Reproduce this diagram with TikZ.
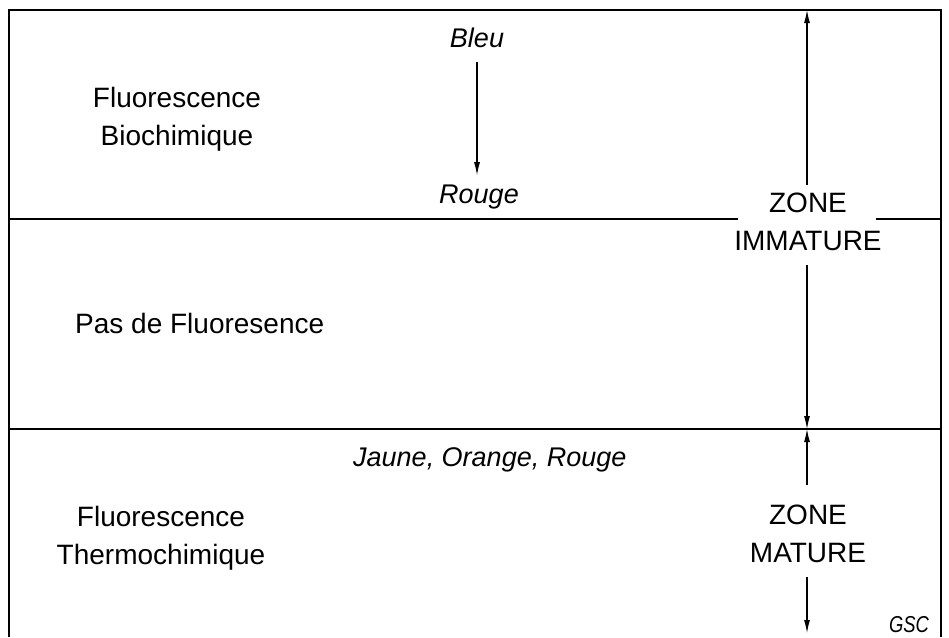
\documentclass[tikz,border=0pt]{standalone}
\usepackage{fontspec}
\setmainfont{Liberation Sans}
\usetikzlibrary{arrows.meta,calc}
\begin{document}
\begin{tikzpicture}[x=1pt,y=-1pt,
  frame/.style={line width=1.6pt},
  arr/.style={line width=1.1pt,-{Latex[length=13pt,width=6pt]}},
  lbl/.style={font=\fontsize{28}{38}\selectfont,align=center,inner sep=0pt,anchor=base},
  ilbl/.style={font=\fontsize{27}{38}\selectfont\itshape,inner sep=0pt,anchor=base},
  zone/.style={lbl}]
\useasboundingbox (0,0) rectangle (949,637);
% frame
\coordinate (TL) at (9,10);
\coordinate (TR) at (941,10);
\coordinate (BL) at (9,637);
\coordinate (BR) at (941,637);
\coordinate (L1) at (9,219);
\coordinate (R1) at (941,219);
\coordinate (L2) at (9,429);
\coordinate (R2) at (941,429);
\draw[frame] (BL) -- (TL) -- (TR) -- (BR);
% texts (two-line nodes: base = baseline of last line)
\node[lbl] (fb) at (177,145) {Fluorescence\\Biochimique};
\node[ilbl] (bleu) at (477,47) {Bleu};
\node[ilbl] (rouge) at (479,203) {Rouge};
\node[zone] (zi) at (808,250) {ZONE\\IMMATURE};
\node[lbl,anchor=base west] (pas) at (75,333) {Pas de Fluoresence};
\node[ilbl,anchor=base west] (jaune) at (353,466) {Jaune, Orange, Rouge};
\node[zone] (zm) at (808,562) {ZONE\\MATURE};
\node[lbl] (ft) at (161,564) {Fluorescence\\Thermochimique};
\node[ilbl,font=\fontsize{23}{26}\selectfont\itshape] (gsc) at (909,632) {\scalebox{0.8}[1]{GSC}};
% lines
\draw[frame] (L1) -- ($(L1 -| zi.west)+(4,0)$);
\draw[frame] ($(zi.east |- R1)+(-6,0)$) -- (R1);
\draw[frame] (L2) -- (R2);
% arrows
\coordinate (ztop) at (807,10);
\coordinate (zmid) at (807,429);
\coordinate (zbot) at (807,633);
\draw[arr,shorten <=15pt,shorten >=9pt] (bleu.south) -- (bleu.south |- rouge.north);
\draw[arr,shorten <=7pt] (zi.north -| ztop) -- (ztop);
\draw[arr,shorten <=15pt] (zi.south -| zmid) -- (zmid);
\draw[arr,shorten <=19pt] (zm.north -| zmid) -- (zmid);
\draw[arr,shorten <=15pt] (zm.south -| zbot) -- (zbot);
\end{tikzpicture}
\end{document}
